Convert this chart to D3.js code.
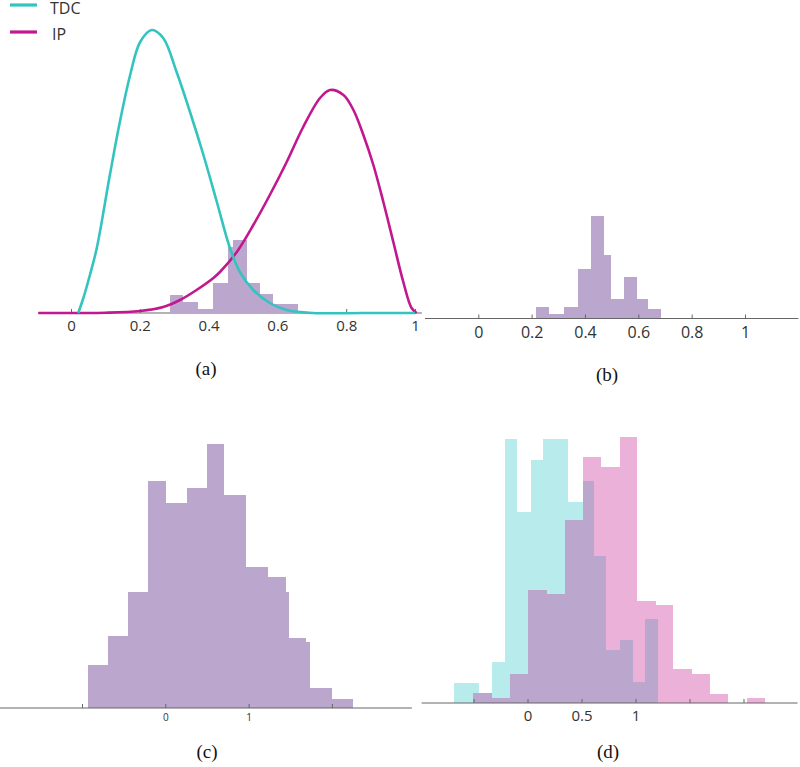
<!DOCTYPE html>
<html><head><meta charset="utf-8">
<script src="https://cdn.jsdelivr.net/npm/d3@7"></script>
<style>body{margin:0;background:#fff}svg{display:block}</style>
</head><body>
<svg id="c" width="800" height="767"></svg>
<script>
// ---- data ----
// Panel (a): density curves [x, density]
const tdcCurve = [[0.021,0],[0.036,0.15],[0.055,0.38],[0.075,0.65],[0.113,1.38],[0.142,1.91],[0.172,2.38],[0.201,2.71],[0.235,2.83],[0.268,2.75],[0.307,2.41],[0.346,2.01],[0.385,1.58],[0.424,1.11],[0.462,0.65],[0.491,0.41],[0.530,0.23],[0.578,0.10],[0.627,0.03],[0.704,0.0],[0.85,0],[1.0,0]];
const ipCurve = [[-0.095,0],[0.10,0.003],[0.20,0.02],[0.268,0.06],[0.317,0.13],[0.365,0.23],[0.414,0.35],[0.433,0.41],[0.482,0.61],[0.530,0.88],[0.578,1.18],[0.627,1.51],[0.675,1.86],[0.724,2.15],[0.753,2.23],[0.792,2.18],[0.821,2.03],[0.850,1.78],[0.879,1.48],[0.908,1.11],[0.937,0.71],[0.966,0.31],[0.990,0.05],[1.005,0]];
// Panel (a) histogram bins [x0, x1, density]
const histA = [[0.288,0.326,0.177],[0.326,0.368,0.11],[0.368,0.414,0.043],[0.414,0.457,0.30],[0.457,0.470,0.66],[0.470,0.513,0.727],[0.513,0.549,0.30],[0.549,0.588,0.193],[0.588,0.661,0.094]];
// Panel (b) histogram bins [x0, x1, count]
const histB = [[0.216,0.266,11.6],[0.266,0.321,5],[0.321,0.373,11.6],[0.373,0.423,50],[0.423,0.472,102.3],[0.472,0.498,63.3],[0.498,0.547,20],[0.547,0.594,41.6],[0.594,0.637,20],[0.637,0.685,10]];
// Panel (c) histogram bins
const histC = [[-0.932,-0.691,43],[-0.691,-0.451,72.3],[-0.451,-0.211,116.3],[-0.211,0.008,227.3],[0.008,0.257,205.3],[0.257,0.497,219.7],[0.497,0.708,264],[0.708,0.965,213],[0.965,1.229,141.3],[1.229,1.445,131.3],[1.445,1.485,116.3],[1.485,1.685,70.3],[1.685,1.737,65.7],[1.737,2.005,19.7],[2.005,2.257,9]];
// Panel (d) histograms
const histDtdc = [[-0.681,-0.446,20.3],[-0.331,-0.208,41.3],[-0.208,-0.094,263.7],[-0.094,0.030,191.3],[0.030,0.146,243],[0.146,0.378,263.7],[0.378,0.517,201.3]];
const histDip = [[0.517,0.681,246.3],[0.681,0.856,236.3],[0.856,1.017,265.7],[1.017,1.187,102.3],[1.187,1.350,98],[1.350,1.520,33.7],[1.520,1.690,28.7],[1.690,1.859,8.7],[2.030,2.199,4.7]];
const histDall = [[-0.502,-0.331,9.7],[-0.331,-0.162,4.7],[-0.162,0.007,29],[0.007,0.178,113],[0.178,0.347,109],[0.347,0.517,183],[0.517,0.616,222.3],[0.616,0.724,147.3],[0.724,0.856,53],[0.856,0.974,63],[0.974,1.088,20.7],[1.088,1.211,84]];
// ticks
const ticksA = [0,0.2,0.4,0.6,0.8,1];
const ticksB = [0,0.2,0.4,0.6,0.8,1];
const ticksC = [-1,0,1,2];
const labelsC = [0,1];
const ticksD = [-0.5,0,0.5,1,1.5,2];
const labelsD = [0,0.5,1];
const legendItems = ["TDC","IP"];
const captions = ["(a)","(b)","(c)","(d)"];

// ---- styles ----
const colTDC = "#33c4c0", colIP = "#c2188f";
const fillPurple = "#bba6cd", fillCyan = "#b8ecec", fillPink = "#ebb1d9";
const axisCol = "#666", textCol = "#333";
const svg = d3.select("#c");

function fmt(d){ return d3.format("~g")(d); }

function drawAxis(g, x, y0, ticks, labels, extent, fontSize, pad){
  g.append("line").attr("x1", x(extent[0])).attr("x2", x(extent[1]))
    .attr("y1", y0).attr("y2", y0).attr("stroke", axisCol).attr("stroke-width", 1.2);
  const ax = d3.axisBottom(x).tickValues(ticks).tickSize(-4).tickPadding(pad)
    .tickFormat(d => labels.includes(d) ? fmt(d) : "");
  const a = g.append("g").attr("transform", `translate(0,${y0})`).call(ax);
  a.select(".domain").remove();
  a.selectAll(".tick line").attr("stroke", axisCol);
  a.selectAll(".tick text").attr("fill", textCol).attr("font-size", fontSize)
    .attr("font-family", "'Open Sans', 'DejaVu Sans', sans-serif");
  return a;
}
function drawBars(g, data, x, y, fill){
  g.selectAll(null).data(data).enter().append("rect")
    .attr("x", d => x(d[0])).attr("width", d => x(d[1]) - x(d[0]))
    .attr("y", d => y(d[2])).attr("height", d => y(0) - y(d[2]))
    .attr("fill", fill).attr("shape-rendering", "crispEdges");
}

// ---- Panel (a) ----
{
  const g = svg.append("g");
  const x = d3.scaleLinear().domain([0,1]).range([71,415]);
  const y = d3.scaleLinear().domain([0,3]).range([313,13]);
  drawAxis(g, x, 313, ticksA, ticksA, [-0.096, 1.02], 15, 7);
  drawBars(g, histA, x, y, fillPurple);
  const line = d3.line().x(d => x(d[0])).y(d => Math.min(y(0), y(d[1]))).curve(d3.curveCatmullRom.alpha(0.5));
  g.append("path").datum(ipCurve).attr("d", line).attr("fill","none").attr("stroke", colIP).attr("stroke-width", 2.6);
  g.append("path").datum(tdcCurve).attr("d", line).attr("fill","none").attr("stroke", colTDC).attr("stroke-width", 2.6);
  // legend
  const lg = svg.append("g");
  [colTDC, colIP].forEach((c,i) => {
    lg.append("line").attr("x1",10).attr("x2",37).attr("y1",5+i*27).attr("y2",5+i*27)
      .attr("stroke",c).attr("stroke-width",3.2);
    lg.append("text").attr("x", i===0?50:52).attr("y", 14+i*26).text(legendItems[i])
      .attr("font-size",16).attr("fill",textCol).attr("font-family","'Open Sans', sans-serif");
  });
}
// ---- Panel (b) ----
{
  const g = svg.append("g");
  const x = d3.scaleLinear().domain([0,1]).range([478.3,745]);
  const y = d3.scaleLinear().domain([0,100]).range([318.5,218.5]);
  drawBars(g, histB, x, y, fillPurple);
  drawAxis(g, x, 318.5, ticksB, ticksB, [-0.2, 1.2], 16, 8);
}
// ---- Panel (c) ----
{
  const g = svg.append("g");
  const x = d3.scaleLinear().domain([0,1]).range([165.3,248.6]);
  const y = d3.scaleLinear().domain([0,100]).range([708,608]);
  drawBars(g, histC, x, y, fillPurple);
  drawAxis(g, x, 708, ticksC, labelsC, [-1.99, 2.96], 10, 6);
}
// ---- Panel (d) ----
{
  const g = svg.append("g");
  const x = d3.scaleLinear().domain([0,1]).range([527.5,635.5]);
  const y = d3.scaleLinear().domain([0,100]).range([703,603]);
  drawBars(g, histDtdc, x, y, fillCyan);
  drawBars(g, histDip, x, y, fillPink);
  drawBars(g, histDall, x, y, fillPurple);
  drawAxis(g, x, 703, ticksD, labelsD, [-0.98, 2.5], 15, 7);
}
// ---- captions ----
const capPos = [[206,375],[607,381],[207,758],[608,758]];
captions.forEach((t,i) => {
  svg.append("text").attr("x", capPos[i][0]).attr("y", capPos[i][1]).attr("text-anchor","middle")
    .text(t).attr("font-size",19).attr("fill","#111").attr("font-family","'Liberation Serif', 'Times New Roman', serif");
});
</script>
</body></html>
